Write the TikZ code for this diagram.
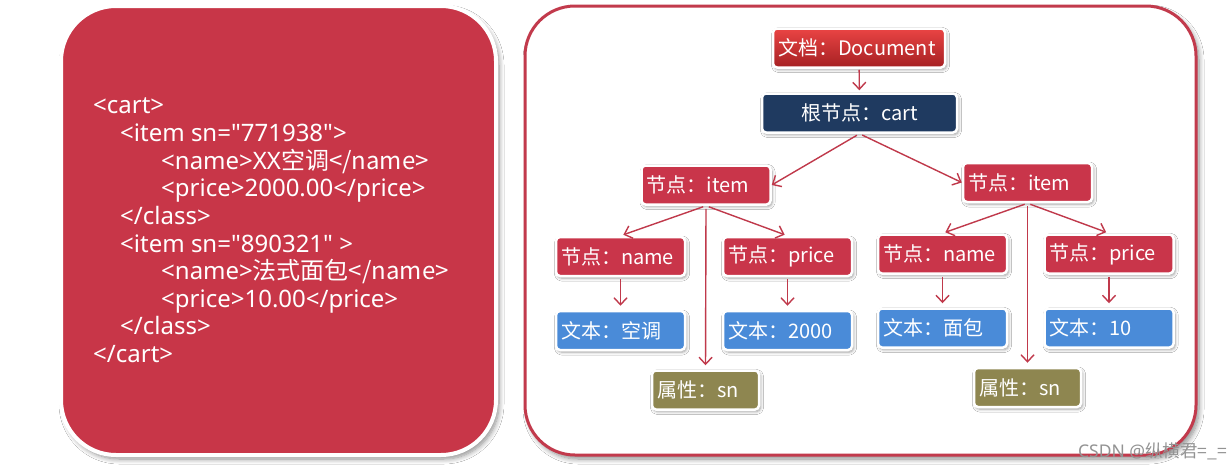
\documentclass[tikz,border=0pt]{standalone}
\usepackage{fontspec}
\setmainfont{Noto Sans}[Ligatures=TeXOff]
\newfontfamily\cjk{Noto Sans CJK SC}
\usetikzlibrary{arrows.meta,shadows.blur}
\definecolor{panelred}{HTML}{C83648}
\definecolor{nred}{HTML}{C9354A}
\definecolor{navy}{HTML}{1F3A60}
\definecolor{nblue}{HTML}{4A8BD8}
\definecolor{olive}{HTML}{8E8650}
\definecolor{arrred}{HTML}{C0394B}
\definecolor{bordred}{HTML}{C23A4C}
\definecolor{doctop}{HTML}{EA4444}
\definecolor{docbot}{HTML}{A52022}
\tikzset{
  bx/.style={rounded corners=4pt, draw=white, line width=2.5pt, text=white,
    inner xsep=5pt, inner ysep=0pt, align=left, minimum height=39pt,
    font=\fontsize{20}{23}\selectfont,
    blur shadow={shadow blur steps=5, shadow xshift=1.5pt, shadow yshift=-2pt,
      shadow blur radius=3pt, shadow opacity=40}},
  arr/.style={draw=arrred, line width=1.4pt,
    -{Straight Barb[length=7pt,width=13pt,line width=1.4pt]}},
  xml/.style={anchor=base west, text=white, inner sep=0pt,
    font=\fontsize{24}{28}\selectfont},
}
\begin{document}
\begin{tikzpicture}[x=1pt,y=-1pt]
\useasboundingbox[fill=white] (0,0) rectangle (1230,469);
% left panel
\path[fill=panelred, draw=white, line width=4pt, rounded corners=55pt,
  blur shadow={shadow blur steps=8, shadow xshift=3pt, shadow yshift=-4pt,
  shadow blur radius=5pt, shadow opacity=45}] (61,6) rectangle (496,455);
\node[xml] (l1) at (93,113) {<cart>};
\node[xml] (l2) at (120,141) {<item sn="771938">};
\node[xml] (l3) at (161,169) {<name>XX\cjk{空调}</name>};
\node[xml] (l4) at (161,196) {<price>2000.00</price>};
\node[xml] (l5) at (120,224) {</class>};
\node[xml] (l6) at (120,252) {<item sn="890321"\ >};
\node[xml] (l7) at (161,279) {<name>\cjk{法式面包}</name>};
\node[xml] (l8) at (161,307) {<price>10.00</price>};
\node[xml] (l9) at (120,334) {</class>};
\node[xml] (l10) at (93,362) {</cart>};
% right panel
\path[fill=white, draw=bordred, line width=3pt, rounded corners=50pt,
  blur shadow={shadow blur steps=8, shadow xshift=3pt, shadow yshift=-4pt,
  shadow blur radius=5pt, shadow opacity=45}] (525,6) rectangle (1196,455);
% nodes
\node[bx, top color=doctop, bottom color=docbot, text width=162pt] (doc) at (859,48) {\cjk{文档：}Document};
\node[bx, fill=navy, align=center, text width=185pt] (root) at (859.5,113) {\cjk{根节点：}cart};
\node[bx, fill=nred, text width=119pt] (item1) at (706,185) {\cjk{节点：}item};
\node[bx, fill=nred, text width=119pt] (item2) at (1027.5,182.5) {\cjk{节点：}item};
\node[bx, fill=nred, text width=119pt] (name1) at (620.5,256.5) {\cjk{节点：}name};
\node[bx, fill=nred, text width=119pt] (price1) at (787.5,256.5) {\cjk{节点：}price};
\node[bx, fill=nred, text width=119pt] (name2) at (942.5,254) {\cjk{节点：}name};
\node[bx, fill=nred, text width=119pt] (price2) at (1109,254) {\cjk{节点：}price};
\node[bx, fill=nblue, text width=119pt] (text1) at (620.5,330.5) {\cjk{文本：空调}};
\node[bx, fill=nblue, text width=119pt] (text2) at (787.5,330.5) {\cjk{文本：}2000};
\node[bx, fill=nblue, text width=119pt] (text3) at (942.5,328) {\cjk{文本：面包}};
\node[bx, fill=nblue, text width=119pt] (text4) at (1109,328) {\cjk{文本：}10};
\node[bx, fill=olive, text width=97pt] (attr1) at (705.5,390) {\cjk{属性：}sn};
\node[bx, fill=olive, text width=97pt] (attr2) at (1027.5,387.5) {\cjk{属性：}sn};
% connectors
\draw[arr, shorten <=1pt, shorten >=2pt] (doc) -- (root);
\draw[arr, shorten <=3pt] (root.south) -- (item1.east);
\draw[arr, shorten <=3pt] (root.south) -- (item2.west);
\foreach \p/\a/\b/\c in {item1/name1/price1/attr1, item2/name2/price2/attr2}{
  \draw[arr, shorten <=3pt, shorten >=3pt] (\p.south) -- (\a.north);
  \draw[arr, shorten <=3pt, shorten >=3pt] (\p.south) -- (\b.north);
  \draw[arr, shorten <=3pt, shorten >=4pt] (\p.south) -- (\c.north);
}
\foreach \a/\b in {name1/text1, price1/text2, name2/text3, price2/text4}{
  \draw[arr, shorten <=2pt, shorten >=4pt] (\a.south) -- (\b.north);
}
% watermark
\node[anchor=east, text=gray!85, inner sep=0pt, font=\fontsize{17.5}{20}\selectfont] (wm) at (1227,451) {CSDN @\cjk{纵横君}=\_=};
\end{tikzpicture}
\end{document}
